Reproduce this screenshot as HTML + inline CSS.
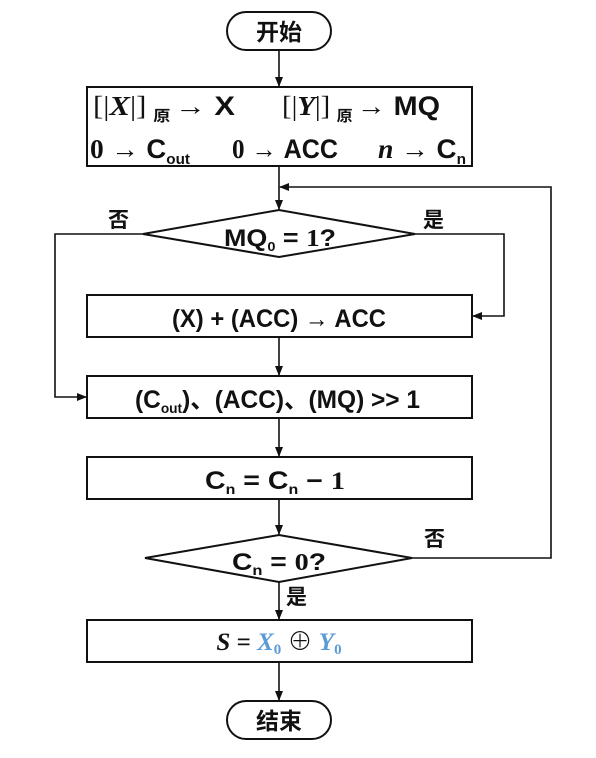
<!DOCTYPE html>
<html><head><meta charset="utf-8"><style>
html,body{margin:0;padding:0;background:#fff;}
svg{display:block;}
text{font-family:"Liberation Sans","Noto Sans CJK SC",sans-serif;font-weight:bold;fill:#111;}
.s{font-family:"Liberation Serif","Noto Serif CJK SC",serif;}
</style></head><body>
<svg width="596" height="758" viewBox="0 0 596 758" xmlns="http://www.w3.org/2000/svg">
<defs><marker id="a" markerWidth="10" markerHeight="10" refX="9" refY="5" orient="auto" markerUnits="userSpaceOnUse"><path d="M0,1 L10,5 L0,9 z" fill="#111"/></marker></defs>
<g stroke="#111" stroke-width="2" fill="none">
<rect x="227" y="12" width="104" height="38" rx="19"/>
<rect x="87" y="87" width="385" height="79"/>
<polygon points="143,234 279,210 415,234 279,257"/>
<rect x="87" y="295" width="385" height="42"/>
<rect x="87" y="376" width="385" height="42"/>
<rect x="87" y="457" width="385" height="42"/>
<polygon points="145,558 279,535 412,558 279,582"/>
<rect x="87" y="620" width="385" height="42"/>
<rect x="227" y="701" width="104" height="38" rx="19"/>
</g>
<g stroke="#111" stroke-width="1.6" fill="none">
<line x1="279" y1="50" x2="279" y2="86" marker-end="url(#a)"/>
<line x1="279" y1="166" x2="279" y2="209" marker-end="url(#a)"/>
<polyline points="412,558 551,558 551,187 280,187" marker-end="url(#a)"/>
<polyline points="143,234 55,234 55,397 86,397" marker-end="url(#a)"/>
<polyline points="415,234 504,234 504,316 473,316" marker-end="url(#a)"/>
<line x1="279" y1="337" x2="279" y2="375" marker-end="url(#a)"/>
<line x1="279" y1="418" x2="279" y2="456" marker-end="url(#a)"/>
<line x1="279" y1="499" x2="279" y2="534" marker-end="url(#a)"/>
<line x1="279" y1="582" x2="279" y2="619" marker-end="url(#a)"/>
<line x1="279" y1="662" x2="279" y2="700" marker-end="url(#a)"/>
</g>
<text x="279" y="40" font-size="23" text-anchor="middle">开始</text>
<text x="279" y="729" font-size="23" text-anchor="middle">结束</text>
<text x="93" y="115" font-size="27" textLength="142" lengthAdjust="spacingAndGlyphs"><tspan class="s" font-weight="normal">[|</tspan><tspan class="s" font-style="italic">X</tspan><tspan class="s" font-weight="normal">|]</tspan><tspan font-size="15" dx="6" dy="6">原</tspan><tspan dx="4" dy="-6" font-weight="normal">→</tspan> X</text>
<text x="282" y="115" font-size="27" textLength="158" lengthAdjust="spacingAndGlyphs"><tspan class="s" font-weight="normal">[|</tspan><tspan class="s" font-style="italic">Y</tspan><tspan class="s" font-weight="normal">|]</tspan><tspan font-size="15" dx="6" dy="6">原</tspan><tspan dx="4" dy="-6" font-weight="normal">→</tspan> MQ</text>
<text x="90" y="158" font-size="27" textLength="100" lengthAdjust="spacingAndGlyphs"><tspan class="s">0</tspan><tspan font-weight="normal"> → </tspan>C<tspan font-size="15" dy="6">out</tspan></text>
<text x="232" y="158" font-size="27" textLength="106" lengthAdjust="spacingAndGlyphs"><tspan class="s">0</tspan><tspan font-weight="normal"> → </tspan>ACC</text>
<text x="378" y="158" font-size="27" textLength="88" lengthAdjust="spacingAndGlyphs"><tspan class="s" font-style="italic">n</tspan><tspan font-weight="normal"> → </tspan>C<tspan font-size="15" dy="6">n</tspan></text>
<text x="224" y="246" font-size="24" textLength="112" lengthAdjust="spacingAndGlyphs">MQ<tspan font-size="13" dy="5">0</tspan><tspan dy="-5"> = </tspan><tspan class="s">1</tspan>?</text>
<text x="108" y="227" font-size="21">否</text>
<text x="423" y="227" font-size="21">是</text>
<text x="172" y="327" font-size="25" textLength="214" lengthAdjust="spacingAndGlyphs">(X) + (ACC) <tspan font-weight="normal">→</tspan> ACC</text>
<text x="135" y="408" font-size="25" textLength="285" lengthAdjust="spacingAndGlyphs">(C<tspan font-size="14" dy="5">out</tspan><tspan dy="-5">)、(ACC)、(MQ) &gt;&gt; 1</tspan></text>
<text x="205" y="489" font-size="25" textLength="140" lengthAdjust="spacingAndGlyphs">C<tspan font-size="14" dy="5">n</tspan><tspan dy="-5"> = C</tspan><tspan font-size="14" dy="5">n</tspan><tspan dy="-5"> − </tspan><tspan class="s">1</tspan></text>
<text x="232" y="570" font-size="24" textLength="94" lengthAdjust="spacingAndGlyphs">C<tspan font-size="14" dy="5">n</tspan><tspan dy="-5"> = </tspan><tspan class="s">0</tspan>?</text>
<text x="424" y="546" font-size="21">否</text>
<text x="286" y="604" font-size="21">是</text>
<text x="279" y="650" font-size="25" text-anchor="middle" class="s"><tspan font-style="italic">S</tspan> = <tspan font-style="italic" style="fill:#5b9bd5">X</tspan><tspan style="fill:#5b9bd5" font-size="15" dy="4">0</tspan><tspan dy="-4"> ⊕ </tspan><tspan font-style="italic" style="fill:#5b9bd5">Y</tspan><tspan style="fill:#5b9bd5" font-size="15" dy="4">0</tspan></text>
</svg>
</body></html>
